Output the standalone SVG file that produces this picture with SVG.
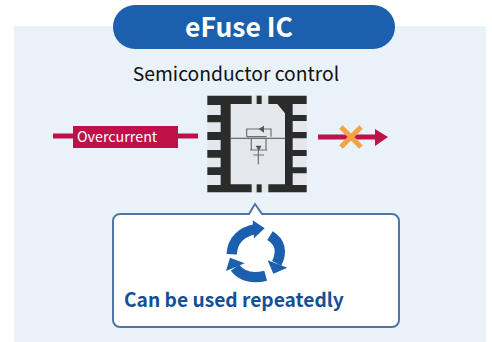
<svg xmlns="http://www.w3.org/2000/svg" width="492" height="342" viewBox="0 0 492 342">
<style>
.cjk{font-family:"Noto Sans CJK JP","Noto Sans",sans-serif}
.blk{fill:#2b2b2b}
.sch{fill:none;stroke:#6c6f72;stroke-width:3.5}
.red{stroke:#bf1049;stroke-width:5;fill:none}
.cyc{fill:none;stroke:#1c5fae;stroke-width:31}
.hd{fill:#1c5fae}
</style>
<rect width="492" height="342" fill="#fff"/>
<rect id="panel" x="14" y="26" width="472" height="316" fill="#e9f1f9"/>
<g id="title"><rect x="113" y="5" width="282" height="44" rx="22" fill="#1c5fae"/>
<text x="239" y="37" text-anchor="middle" class="cjk" font-size="26.5" font-weight="700" fill="#fff">eFuse IC</text></g>
<text id="subtitle" x="236" y="81" text-anchor="middle" class="cjk" font-size="19.3" fill="#111">Semiconductor control</text>
<g id="chip" transform="translate(190,85) scale(.33333)">
<rect x="52" y="32" width="298" height="290" fill="#e4e8ec"/>
<path class="blk" d="M52 32H185V57H122V298H185V322H52V300H92V270H52V247H92V218H52V195H92V165H52V141H92V112H52V90H92V60H52Z"/>
<path class="blk" d="M235 32H350V57H308V90H350V108H308V141H350V160H308V195H350V213H308V247H350V265H308V300H350V322H235V298H285V85L262 57H235Z"/>
<rect class="blk" x="200" y="32" width="15" height="25"/><rect class="blk" x="200" y="298" width="15" height="24"/>
<path class="sch" d="M122 160H285M170 155V132H243V155M196 132H222M170 155H230M180 195H232M205 195V238M190 210H222M184 160V195M228 160V195"/>
<path d="M206 132L222 122V143ZM197 182H215L206 197Z" fill="#555"/>
</g>
<g id="connectors">
<path class="red" d="M53 136H198"/>
<path class="red" d="M318 137H376"/>
<path d="M375 129L388 137L375 146Z" fill="#bf1049"/>
<path d="M341 127L361 147M361 127L341 147" stroke="#f2a343" stroke-width="5" fill="none"/>
</g>
<g id="overcurrent"><rect x="73" y="126" width="105" height="22" fill="#bf1049"/>
<text x="77" y="142" class="cjk" font-size="14.3" fill="#fff">Overcurrent</text></g>
<g id="callout">
<path d="M120 214H249L255 204L262 214H392A7 7 0 0 1 399 221V320A7 7 0 0 1 392 327H120A7 7 0 0 1 113 320V221A7 7 0 0 1 120 214Z" fill="#fff" stroke="#4f77a6" stroke-width="2"/>
<g transform="translate(100,195) scale(.33333)">
<path class="cyc" d="M395 178C397 135 425 110 468 102"/>
<path class="hd" d="M458 76L494 100L462 130Z"/>
<path class="cyc" d="M510 122C540 140 548 170 530 205"/>
<path class="hd" d="M503 196L562 218L520 236Z"/>
<path class="cyc" d="M497 242C460 252 425 245 405 218"/>
<path class="hd" d="M378 228L390 188L434 205Z"/>
</g>
<text x="124" y="307" class="cjk" font-size="19.2" font-weight="700" fill="#154f96">Can be used repeatedly</text>
</g>
</svg>
